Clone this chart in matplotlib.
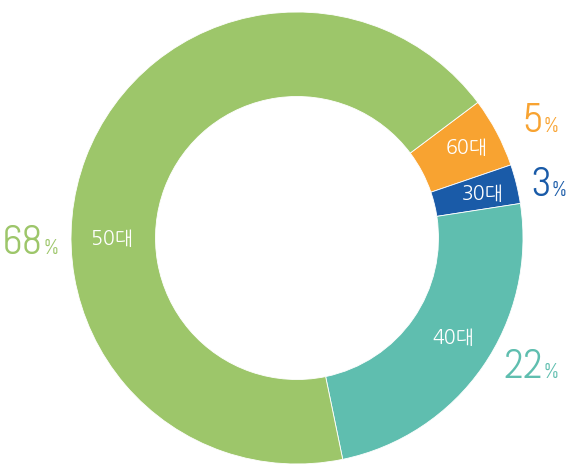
import matplotlib.pyplot as plt

# age groups, clockwise from the upper right
groups = ["60대", "30대", "40대", "50대"]
shares = [5.0, 2.8, 24.2, 68.0]          # slice sizes as drawn
pct_text = ["5", "3", "22", "68"]        # printed percentages
colors = ["#F8A331", "#1A5BA8", "#5FBEAF", "#9DC66A"]

W, H = 567, 465
fig = plt.figure(figsize=(W / 100, H / 100), dpi=100)
ax = fig.add_axes([0, 0, 1, 1])

cx, cy = 297, H - 238
R = 226
wedges, _ = ax.pie(shares, colors=colors, startangle=36.87, counterclock=False,
                   center=(cx, cy), radius=R,
                   wedgeprops=dict(width=R - 141.5, edgecolor="white", linewidth=0.6))
ax.set_xlim(0, W)
ax.set_ylim(0, H)
ax.set_aspect("equal")
ax.axis("off")

# labels inside the ring (pixel positions)
inner_pos = [(466.5, 148), (483, 194), (453.5, 338), (112.5, 238.5)]
for g, (x, y) in zip(groups, inner_pos):
    ax.text(x, H - y, g, color="white", fontsize=14, ha="center", va="center",
            family=["NanumGothic", "Noto Sans CJK KR", "DejaVu Sans"])

# big percentages outside: right edge of digits at x, baseline at y
num_font = ["Abel", "Roboto Condensed", "DejaVu Sans"]
pct_pos = [(543, 132), (551, 196), (543, 378), (43, 254)]
for t, c, (x, y) in zip(pct_text, colors, pct_pos):
    ax.text(x, H - y, t, color=c, fontsize=29, ha="right", va="baseline", family=num_font)
    ax.text(x + 0.5, H - y, "%", color=c, fontsize=16, ha="left", va="baseline", family=num_font)

fig.savefig("out.png", dpi=100)
